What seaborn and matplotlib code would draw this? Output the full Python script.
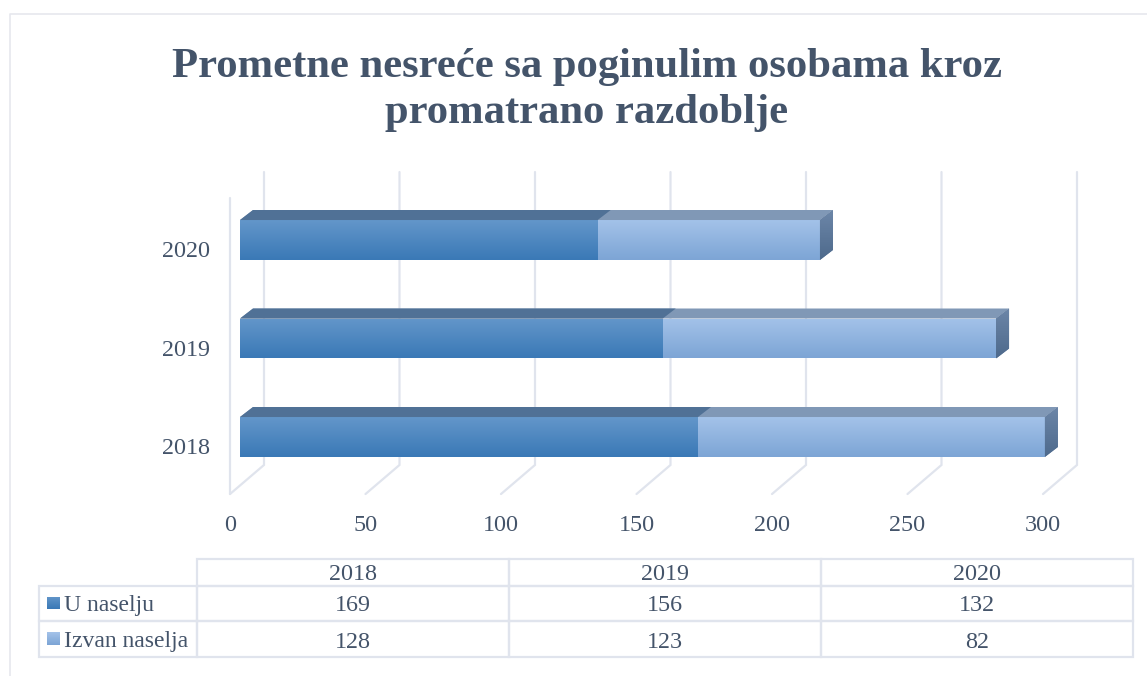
import matplotlib
matplotlib.use("Agg")
import matplotlib.pyplot as plt
import matplotlib.transforms as mtrans
from matplotlib.colors import LinearSegmentedColormap
from matplotlib.lines import Line2D
from matplotlib.patches import Polygon
import numpy as np
import seaborn as sns

years = ["2018", "2019", "2020"]
u_naselju = [169, 156, 132]
izvan_naselja = [128, 123, 82]
series_names = ["U naselju", "Izvan naselja"]
x_ticks = [0, 50, 100, 150, 200, 250, 300]
title = "Prometne nesreće sa poginulim osobama kroz\npromatrano razdoblje"

sns.set_style("white")
plt.rcParams["font.family"] = ["Liberation Serif", "DejaVu Serif"]

TXT = "#44546A"
GRID = "#E0E4ED"
W, H = 1147, 676


def px_axes(left, top, right, bottom):
    return [left / W, 1 - bottom / H, (right - left) / W, (bottom - top) / H]


def gradient(cmap_colors):
    return LinearSegmentedColormap.from_list("g", cmap_colors)


def fill_gradient(ax, patch, colors):
    # paint a vertical gradient over a bar, clipped to its shape
    x0, y0 = patch.get_x(), patch.get_y()
    im = ax.imshow(np.linspace(0, 1, 64).reshape(-1, 1), cmap=gradient(colors),
                   extent=[x0, x0 + patch.get_width(), y0 + patch.get_height(), y0],
                   aspect="auto", zorder=patch.get_zorder() + 0.1)
    im.set_clip_path(patch)


fig = plt.figure(figsize=(W / 100, H / 100), dpi=100)
ax = fig.add_axes(px_axes(240, 190.75, 1053, 486.25))

totals = np.array(u_naselju) + np.array(izvan_naselja)
order = years[::-1]
sns.barplot(x=totals, y=years, order=order, orient="y", color="#8FB3E0",
            width=0.406, saturation=1, linewidth=0, ax=ax)
sns.barplot(x=u_naselju, y=years, order=order, orient="y", color="#4A85C0",
            width=0.406, saturation=1, linewidth=0, ax=ax)

ax.set_xlim(0, 300)
ax.set_ylim(2.5, -0.5)
sns.despine(ax=ax, left=True, bottom=True)

# depth of the fake 3D box, in data units
depth_x = 13 / 2.71
depth_y = 10 / 98.5
back_x = 24 / 2.71
front_x = -10 / 2.71
y_top = -0.69
y_back = 2.284
y_front = 2.579
y_wall = -0.43

for t in x_ticks:
    ax.plot([t + back_x, t + back_x, t + front_x], [y_top, y_back, y_front],
            color=GRID, lw=1.6, zorder=0.5, clip_on=False, solid_joinstyle="miter")
ax.plot([front_x, front_x], [y_wall, y_front], color=GRID, lw=1.6, zorder=0.5, clip_on=False)

bars = list(ax.patches)
outer = bars[:3]
inner = bars[3:]

for p in outer:
    x1 = p.get_x() + p.get_width()
    top = p.get_y()
    bot = top + p.get_height()
    fill_gradient(ax, p, ["#A3C2E9", "#7DA5D5"])
    ax.add_patch(Polygon([(0, top), (x1, top), (x1 + depth_x, top - depth_y), (depth_x, top - depth_y)],
                         facecolor="#8098B6", edgecolor="none", zorder=1.5, clip_on=False))
    side = Polygon([(x1, top), (x1 + depth_x, top - depth_y), (x1 + depth_x, bot - depth_y), (x1, bot)],
                   facecolor="#5F7B9E", edgecolor="none", zorder=1.5, clip_on=False)
    ax.add_patch(side)
    im = ax.imshow(np.linspace(0, 1, 64).reshape(-1, 1), cmap=gradient(["#6C86A8", "#4E6A8C"]),
                   extent=[x1, x1 + depth_x, bot, top - depth_y], aspect="auto", zorder=1.6)
    im.set_clip_box(fig.bbox)
    im.set_clip_path(side)

for p in inner:
    x1 = p.get_x() + p.get_width()
    top = p.get_y()
    p.set_zorder(1.2)
    fill_gradient(ax, p, ["#6396CA", "#3A79B6"])
    ax.add_patch(Polygon([(0, top), (x1, top), (x1 + depth_x, top - depth_y), (depth_x, top - depth_y)],
                         facecolor="#507196", edgecolor="none", zorder=1.7))

ax.set_xlim(0, 300)
ax.set_ylim(2.5, -0.5)
ax.set_xticks(x_ticks)
ax.set_xlabel("")
ax.set_ylabel("")
ax.tick_params(axis="both", length=0, labelsize=17.4, labelcolor=TXT)
ax.tick_params(axis="x", pad=20.5)
ax.tick_params(axis="y", pad=21.5)
ax.patch.set_alpha(0)

x_shift = mtrans.ScaledTranslation(-10 / 100, 0, fig.dpi_scale_trans)
y_shift = mtrans.ScaledTranslation(0, -9 / 100, fig.dpi_scale_trans)
for lab in ax.get_xticklabels():
    lab.set_transform(lab.get_transform() + x_shift)
for lab in ax.get_yticklabels():
    lab.set_transform(lab.get_transform() + y_shift)

fig.text(586.5 / W, 1 - 90 / H, title, ha="center", va="center", fontsize=30.7,
         fontweight="bold", color=TXT, linespacing=1.25)

# data table with legend keys
tab_ax = fig.add_axes(px_axes(39, 559, 1133, 657))
tab_ax.axis("off")
cell_text = [[""] + years,
             [series_names[0]] + [str(v) for v in u_naselju],
             [series_names[1]] + [str(v) for v in izvan_naselja]]
col_w = [158, 312, 312, 312]
row_h = [27, 35, 36]
row_shift = [2, 2, 3]
table = tab_ax.table(cellText=cell_text, colWidths=[c / sum(col_w) for c in col_w],
                     cellLoc="center", bbox=[0, 0, 1, 1])
table.auto_set_font_size(False)
for (r, c), cell in table.get_celld().items():
    cell.set_height(row_h[r] / sum(row_h))
    cell.set_edgecolor(GRID)
    cell.set_linewidth(1.6)
    cell.set_facecolor("none")
    txt = cell.get_text()
    txt.set_color(TXT)
    txt.set_fontsize(17.4)
    txt.set_transform(mtrans.ScaledTranslation(0, -row_shift[r] / 100, fig.dpi_scale_trans))
    if c == 0:
        txt.set_fontsize(17)
        txt.set_ha("left")
        cell.PAD = 25 / 158
        cell._loc = "left"
    if r == 0 and c == 0:
        cell.visible_edges = ""

# legend keys
key_colors = [["#6396CA", "#3A79B6"], ["#A3C2E9", "#7DA5D5"]]
key_rows = [(597, 609), (632, 645)]
for cols, (k0, k1) in zip(key_colors, key_rows):
    kax = fig.add_axes(px_axes(47, k0, 60, k1))
    kax.imshow(np.linspace(0, 1, 32).reshape(-1, 1), cmap=gradient(cols), aspect="auto")
    kax.axis("off")

# outer chart frame
fig.add_artist(Line2D([10 / W, 10 / W, 1], [0, 1 - 14 / H, 1 - 14 / H], color="#E6E8EE", lw=1.2))

fig.savefig("out.png", dpi=100)
